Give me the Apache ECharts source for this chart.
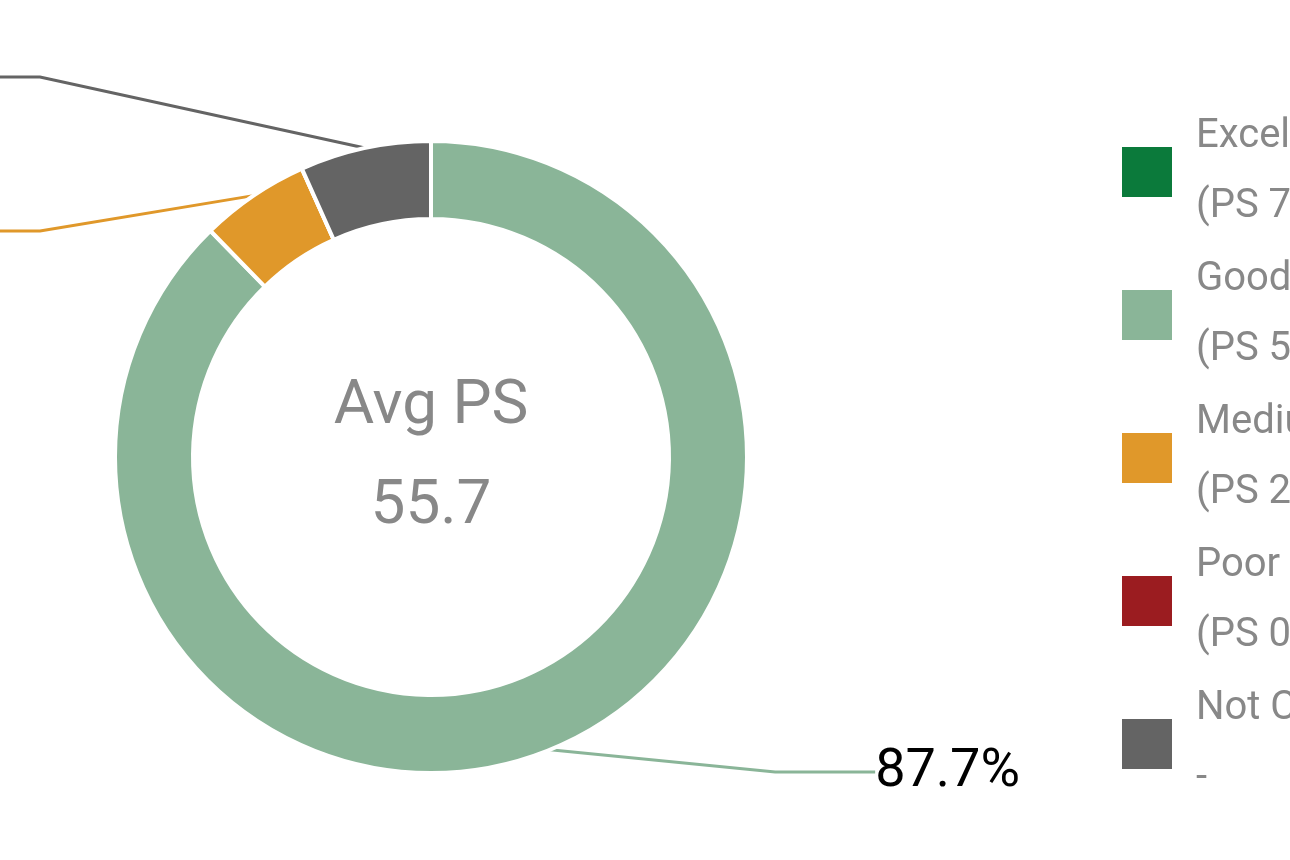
<!DOCTYPE html>
<html><head><meta charset="utf-8">
<script src="https://cdn.jsdelivr.net/npm/echarts@6/dist/echarts.min.js"></script>
<style>html,body{margin:0;padding:0;background:#fff}#c{width:1290px;height:860px}</style>
</head><body><div id="c"></div>
<script>
const categories = ["Excellent\n(PS 75-100)", "Good\n(PS 50-74)", "Medium\n(PS 25-49)", "Poor\n(PS 0-24)", "Not Calculated\n-"];
const values = [0, 87.7, 5.6, 0, 6.7];
const colors = ["#0b7a3b", "#8ab598", "#e0982a", "#9b1c20", "#646464"];
const avgPS = "55.7";

const chart = echarts.init(document.getElementById('c'));
const labelPos = {1: {x: 1020, y: 803, align: 'right'}, 2: {x: -60, y: 262, align: 'right'}, 4: {x: -60, y: 108, align: 'right'}};
chart.setOption({
  animation: false,
  legend: {
    orient: 'vertical', left: 1115, top: 97, itemWidth: 52, itemHeight: 52, itemGap: 3,
    icon: 'rect',
    textStyle: {fontSize: 40, color: '#888', lineHeight: 70, fontFamily: 'Roboto', padding: [0,0,0,18]},
    data: categories
  },
  series: [{
    type: 'pie', center: [431, 457], radius: [238, 316], startAngle: 90, clockwise: true,
    avoidLabelOverlap: false,
    itemStyle: {borderColor: '#fff', borderWidth: 4},
    label: {show: true, formatter: p => p.value > 0 ? p.value.toFixed(1) + '%' : '', fontSize: 54, color: '#000', fontFamily: 'Roboto', padding: [0,0,4,0]},
    labelLine: {show: true, length: 40, length2: 100, lineStyle: {width: 3}},
    labelLayout: p => { const l = labelPos[p.dataIndex]; return l ? {x: l.x, y: l.y, align: l.align, verticalAlign: 'bottom'} : {}; },
    data: categories.map((c, i) => ({name: c, value: values[i], itemStyle: {color: colors[i]},
      label: {show: values[i] > 0}, labelLine: {show: values[i] > 0}}))
  }, {
    type: 'pie', center: [431, 457], radius: [0, 0], silent: true,
    label: {show: true, position: 'center', formatter: 'Avg PS\n' + avgPS, fontSize: 62, lineHeight: 100, color: '#888', fontFamily: 'Roboto'},
    labelLine: {show: false},
    data: [{value: 1, name: '', itemStyle: {color: 'transparent'}}]
  }]
});
</script></body></html>
